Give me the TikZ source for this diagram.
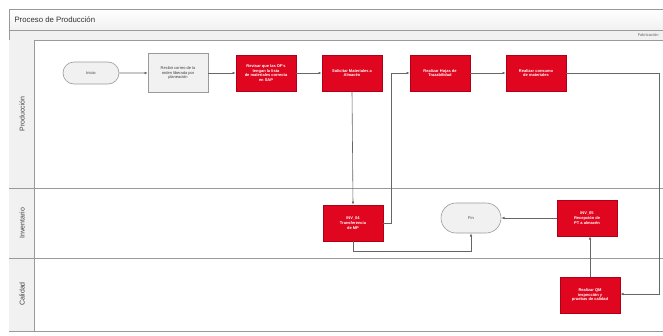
\documentclass[tikz,border=0pt]{standalone}
\usepackage{fontspec}
\setmainfont{Liberation Sans}
\usetikzlibrary{arrows.meta,shapes.misc}
\definecolor{procred}{HTML}{E0061F}
\definecolor{procredline}{HTML}{B00018}
\definecolor{frameline}{HTML}{9A9A9A}
\definecolor{headfill}{HTML}{F1F1F1}
\tikzset{
  redbox/.style={rectangle, draw=procredline, fill=procred, line width=0.6pt,
    minimum width=60pt, minimum height=36pt, inner sep=1pt, align=center,
    text=white, font=\fontsize{4}{4.8}\selectfont\bfseries},
  graybox/.style={rectangle, draw=frameline, fill=headfill, line width=0.5pt,
    minimum width=60pt, minimum height=39pt, inner sep=1pt, align=center,
    text=black!75, font=\fontsize{4}{4.8}\selectfont},
  terminal/.style={rounded rectangle, draw=frameline, fill=headfill, line width=0.6pt,
    minimum height=22pt, inner sep=1pt, text=black!75,
    font=\fontsize{4}{4.8}\selectfont},
  flow/.style={draw=black!60, line width=0.6pt, -{Latex[length=3.2pt,width=2.6pt]}},
  lanetitle/.style={rotate=90, font=\fontsize{7}{8}\selectfont, text=black!75},
  frame/.style={draw=frameline, line width=0.6pt}
}
\begin{document}
\begin{tikzpicture}[x=1pt,y=-1pt]
\useasboundingbox (0,0) rectangle (663,335);
\fill[white] (0,0) rectangle (663,335);

\begin{scope}
\clip (0,0) rectangle (663,335);
% header bars
\shade[top color=white, bottom color=headfill] (9,9) rectangle (670,30);
\fill[headfill] (9,30) rectangle (670,40);
\draw[frame] (9,9) rectangle (670,331);
\draw[frame] (9,30) -- (670,30);
\draw[frame] (9,40) -- (670,40);
\node[anchor=west, font=\fontsize{7.8}{9}\selectfont, text=black!80] (title) at (11,19.5) {Proceso de Producción};
\node[anchor=east, font=\fontsize{4}{5}\selectfont, text=black!60] (phase) at (662,35) {Fabricación};

% lanes
\fill[headfill] (9,40) rectangle (34,331);
\draw[frame] (34,40) -- (34,331);
\draw[frame] (9,188) -- (670,188);
\draw[frame] (9,258) -- (670,258);
\node[lanetitle] (lprod) at (22,114) {Producción};
\node[lanetitle] (linv) at (22,223) {Inventario};
\node[lanetitle] (lcal) at (22,294) {Calidad};
\end{scope}

% Producción
\node[terminal, minimum width=58pt] (inicio) at (91,73) {Inicio};
\node[graybox] (correo) at (178,73) {Recibir correo de la\\orden liberada por\\planeación};
\node[redbox] (revisar) at (266,73) {Revisar que las OF's\\tengan la lista\\de materiales correcta\\en SAP};
\node[redbox] (solicitar) at (352,73) {Solicitar Materiales a\\Almacén};
\node[redbox] (hojas) at (440,73) {Realizar Hojas de\\Trazabilidad};
\node[redbox] (consumo) at (536,73) {Realizar consumo\\de materiales};

% Inventario
\node[redbox] (transf) at (353,223) {INV\_04\\Transferencia\\de MP};
\node[terminal, minimum width=62pt, minimum height=30pt] (fin) at (471,218) {Fin};
\node[redbox] (recep) at (587,218) {INV\_05\\Recepción de\\PT a almacén};

% Calidad
\node[redbox] (calidad) at (590,295) {Realizar QM\\inspección y\\pruebas de calidad};

\coordinate (c1) at (659,73);
\coordinate (c2) at (659,294);
\coordinate (c3) at (391,223);
\coordinate (c4) at (353,251);
\coordinate (c5) at (471,251);

% connectors
\draw[flow] (inicio) -- (correo);
\draw[flow] (correo) -- (revisar);
\draw[flow] (revisar) -- (solicitar);
\draw[flow] (hojas) -- (consumo);
\draw[flow] (solicitar.south) -- (transf.north);
\draw[flow] (transf.east) -- (c3) |- (hojas.west);
\draw[flow] (transf.south) -- (c4) -- (c5) -- (fin.south);
\draw[flow] (consumo.east) -- (c1) -- (c2) -- (calidad.east |- c2);
\draw[flow] (calidad.north) -- (recep.south -| calidad.north);
\draw[flow] (recep.west) -- (fin.east);
\end{tikzpicture}
\end{document}
